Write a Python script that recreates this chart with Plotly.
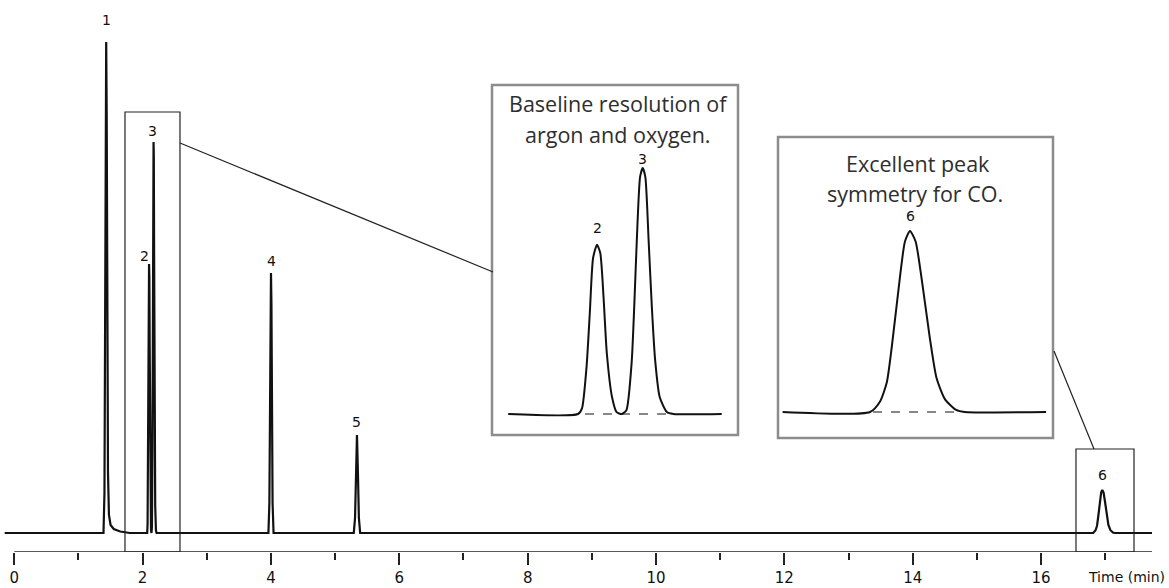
import plotly.graph_objects as go

W, H = 1169, 588

# ---------------- data: chromatogram (time in min, detector signal, arb. units)
base_start_t = [-0.15, 1.39]
base_start_s = [0, 0]

peak1_t = [1.405, 1.415, 1.425, 1.432, 1.44, 1.45, 1.46, 1.475, 1.50, 1.55, 1.65, 1.80]
peak1_s = [40, 250, 470, 491, 420, 200, 60, 18, 8, 4, 1.5, 0]

# argon (2) and oxygen (3)
peak23_t = [1.964, 2.071, 2.077, 2.084, 2.089, 2.094, 2.100, 2.105, 2.110, 2.115, 2.123, 2.130,
            2.138, 2.145, 2.153, 2.157, 2.161, 2.166, 2.170, 2.174, 2.179, 2.184, 2.189, 2.196,
            2.207, 2.217, 2.291]
peak23_s = [0, 0, 9, 75, 161, 248, 269, 256, 186, 97, 27, 3,
            0, 6, 81, 170, 277, 377, 391, 377, 277, 170, 86, 27,
            3, 0, 0]

peak4_t = [3.96, 3.975, 3.985, 3.993, 4.0, 4.007, 4.015, 4.025, 4.04]
peak4_s = [0, 30, 130, 230, 260, 230, 130, 30, 0]

peak5_t = [5.29, 5.31, 5.325, 5.34, 5.355, 5.37, 5.39]
peak5_s = [0, 15, 60, 98, 60, 15, 0]

# CO (6)
peak6_t = [16.500, 16.812, 16.848, 16.872, 16.890, 16.919, 16.937, 16.955, 16.975, 17.000,
           17.026, 17.050, 17.080, 17.120, 17.150, 17.441]
peak6_s = [0, 0, 2.5, 7, 15.5, 32, 40.5, 43, 40.5, 30, 17.5, 8, 3, 0.5, 0, 0]

base_end_t = [17.73]
base_end_s = [0]

peak_labels = ["1", "2", "3", "4", "5", "6"]
peak_label_t = [1.432, 2.03, 2.155, 4.01, 5.34, 16.955]
peak_label_s = [513, 277, 402, 272, 111, 58]

major_ticks = [0, 2, 4, 6, 8, 10, 12, 14, 16]
minor_ticks = [1, 3, 5, 7, 9, 11, 13, 15, 17]

time_all = base_start_t + peak1_t + peak23_t + peak4_t + peak5_t + peak6_t + base_end_t
sig_all = base_start_s + peak1_s + peak23_s + peak4_s + peak5_s + peak6_s + base_end_s

# dashed baselines under the magnified peaks
dash23_t = [2.0816, 2.215]
dash6_t = [16.823, 17.134]


def px(x):
    return x / W


def py(y):
    return 1 - y / H


fig = go.Figure()

# main chromatogram
fig.add_trace(go.Scatter(x=time_all, y=sig_all, mode="lines",
                         line=dict(color="#111111", width=2.2), hoverinfo="skip",
                         xaxis="x", yaxis="y"))

# inset 1 (peaks 2 & 3)
fig.add_trace(go.Scatter(x=peak23_t, y=peak23_s, mode="lines",
                         line=dict(color="#111111", width=2, shape="spline", smoothing=0.6),
                         xaxis="x2", yaxis="y2", hoverinfo="skip"))
fig.add_trace(go.Scatter(x=dash23_t, y=[0, 0], mode="lines",
                         line=dict(color="#111111", width=1.2, dash="dash"),
                         xaxis="x2", yaxis="y2", hoverinfo="skip"))

# inset 2 (peak 6)
fig.add_trace(go.Scatter(x=peak6_t, y=peak6_s, mode="lines",
                         line=dict(color="#111111", width=2, shape="spline", smoothing=0.6),
                         xaxis="x3", yaxis="y3", hoverinfo="skip"))
fig.add_trace(go.Scatter(x=dash6_t, y=[0, 0], mode="lines",
                         line=dict(color="#111111", width=1.2, dash="dash"),
                         xaxis="x3", yaxis="y3", hoverinfo="skip"))

ppm = 64.17          # px per minute on main axis
x0px = 14.3          # px of t = 0

hidden = dict(visible=False, showgrid=False, zeroline=False, fixedrange=True)

fig.update_layout(
    width=W, height=H,
    margin=dict(l=0, r=0, t=0, b=0),
    paper_bgcolor="white", plot_bgcolor="white",
    showlegend=False,
    xaxis=dict(domain=[0, 1], range=[-x0px / ppm, (W - x0px) / ppm],
               showgrid=False, zeroline=False, showline=False,
               ticks="outside", ticklen=12, tickwidth=1.6, tickcolor="#222222",
               tickvals=major_ticks, ticktext=[str(v) for v in major_ticks],
               tickfont=dict(family="DejaVu Sans", size=15, color="#111111"),
               minor=dict(tickvals=minor_ticks, ticks="outside", ticklen=7,
                          tickwidth=1.6, tickcolor="#222222", showgrid=False),
               fixedrange=True),
    yaxis=dict(domain=[1 - 552 / H, 1], range=[-19, 533], **hidden),
    xaxis2=dict(domain=[px(492), px(738)],
                range=[2.10 - (597 - 492) / 653, 2.10 + (738 - 597) / 653], anchor="y2", **hidden),
    yaxis2=dict(domain=[py(435), py(85)],
                range=[-(435 - 414) / 0.629, (414 - 85) / 0.629], anchor="x2", **hidden),
    xaxis3=dict(domain=[px(778), px(1053)],
                range=[16.955 - (910 - 778) / 280, 16.955 + (1053 - 910) / 280], anchor="y3", **hidden),
    yaxis3=dict(domain=[py(438), py(137)],
                range=[-(438 - 412) / 4.21, (412 - 137) / 4.21], anchor="x3", **hidden),
)

shapes = []
# axis line
shapes.append(dict(type="line", xref="x", yref="y", x0=0, x1=17.73, y0=-19, y1=-19,
                   line=dict(color="#222222", width=1.6)))
# zoom boxes on main chromatogram
shapes.append(dict(type="rect", xref="x", yref="y", x0=1.725, x1=2.582, y0=-19, y1=421,
                   line=dict(color="#222222", width=1.2)))
shapes.append(dict(type="rect", xref="x", yref="y", x0=16.545, x1=17.449, y0=-19, y1=84,
                   line=dict(color="#222222", width=1.2)))
# inset borders
shapes.append(dict(type="rect", xref="paper", yref="paper", x0=px(492), x1=px(738),
                   y0=py(435), y1=py(85), line=dict(color="#8c8c8c", width=2.5)))
shapes.append(dict(type="rect", xref="paper", yref="paper", x0=px(778), x1=px(1053),
                   y0=py(438), y1=py(137), line=dict(color="#8c8c8c", width=2.5)))
# leader lines
shapes.append(dict(type="line", xref="paper", yref="paper", x0=px(180), y0=py(143),
                   x1=px(493), y1=py(272), line=dict(color="#222222", width=1.2)))
shapes.append(dict(type="line", xref="paper", yref="paper", x0=px(1054), y0=py(351),
                   x1=px(1094), y1=py(449), line=dict(color="#222222", width=1.2)))
fig.update_layout(shapes=shapes)

ann = []
lab_font = dict(family="DejaVu Sans", size=14, color="#111111")
for lab, t, s in zip(peak_labels, peak_label_t, peak_label_s):
    ann.append(dict(x=t, y=s, xref="x", yref="y", text=lab, showarrow=False,
                    font=lab_font, xanchor="center", yanchor="middle"))
# inset peak labels
ann.append(dict(x=2.10, y=296, xref="x2", yref="y2", text="2", showarrow=False,
                font=lab_font, yanchor="middle"))
ann.append(dict(x=2.17, y=406, xref="x2", yref="y2", text="3",
                showarrow=False, font=lab_font, yanchor="middle"))
ann.append(dict(x=16.955, y=46.5, xref="x3", yref="y3", text="6",
                showarrow=False, font=lab_font, yanchor="middle"))
# inset titles
title_font = dict(family="Open Sans", size=21.5, color="#2e2e2e")
for txt, cx, cy in [("Baseline resolution of", 618, 103), ("argon and oxygen.", 618, 134),
                    ("Excellent peak", 918, 163), ("symmetry for CO.", 915, 193)]:
    ann.append(dict(x=px(cx), y=py(cy), xref="paper", yref="paper", text=txt,
                    showarrow=False, font=title_font, xanchor="center", yanchor="middle"))
# axis title
ann.append(dict(x=px(1167), y=py(577), xref="paper", yref="paper", text="Time (min)",
                showarrow=False, font=dict(family="DejaVu Sans", size=14, color="#111111"),
                xanchor="right", yanchor="middle"))
fig.update_layout(annotations=ann)

fig.write_html("out.html")
